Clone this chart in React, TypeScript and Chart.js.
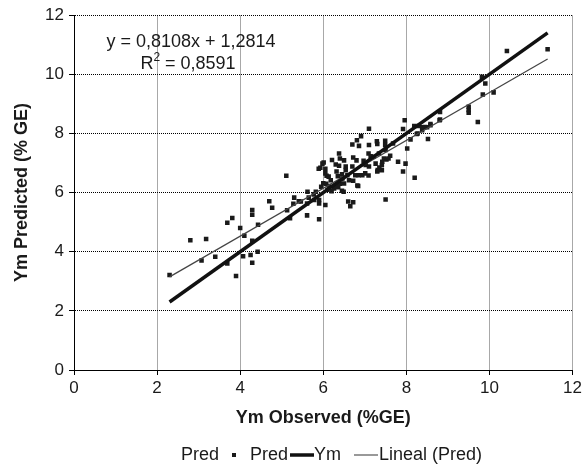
import React, { useEffect, useRef } from "react";
import { Chart, registerables } from "chart.js";

Chart.register(...registerables);

// ---- data ----
const OBSERVED = [
  2.30, 2.80, 3.18, 3.07, 3.40, 3.69, 3.81, 3.69, 3.90, 4.00, 4.10, 4.07, 4.25, 4.29, 4.29, 4.29, 4.43, 4.29, 4.42,
  4.70, 4.77, 5.11, 5.13, 5.20, 5.28, 5.30, 5.41, 5.46, 5.61, 5.61, 5.65, 5.62, 5.77, 5.82, 5.78, 5.90, 5.90, 5.90, 6.05,
  5.89, 5.93, 5.98, 6.01, 6.05, 6.05, 6.08, 6.13, 6.18, 6.14, 6.21, 6.30, 6.38, 6.32, 6.38, 6.40, 6.50, 6.54, 6.54, 6.26,
  6.32, 6.46, 6.50, 6.58, 6.62, 6.70, 6.77, 6.49, 6.60, 6.65, 6.72, 6.72, 6.84, 6.72, 6.80, 6.86, 6.91, 6.81, 6.70, 6.97,
  7.02, 7.10, 7.09, 7.10, 7.14, 7.01, 7.09, 7.29, 7.30, 7.21, 7.34, 7.26, 7.41, 7.41, 7.31, 7.49, 7.49, 7.50, 7.46, 7.52,
  7.50, 7.68, 7.61, 7.80, 7.92, 7.98, 8.02, 7.92, 7.96, 8.10, 8.20, 8.19, 8.27, 8.38, 8.52, 8.58, 8.80,
  6.00, 6.07, 6.30, 6.36, 6.40, 5.95, 6.10, 6.20, 6.35, 6.45, 6.94, 6.85, 6.82, 6.45, 7.10, 7.30, 7.42, 7.57, 7.35,
  8.40, 8.45, 8.50, 8.30, 8.25, 8.81, 8.81, 8.58, 9.50, 9.50, 9.50, 9.72, 9.82, 9.90, 9.84, 10.10, 10.42, 11.40,
];
const PREDICTED = [
  3.21, 4.39, 4.43, 3.70, 3.83, 4.98, 5.14, 3.60, 3.18, 4.80, 4.54, 3.85, 3.89, 3.63, 5.41, 5.25, 4.91, 4.37, 4.00,
  5.71, 5.49, 6.57, 5.40, 5.13, 5.62, 5.83, 5.71, 5.70, 5.63, 5.23, 5.83, 6.03, 5.94, 6.03, 5.75, 5.75, 5.63, 5.10, 5.58,
  6.81, 6.84, 6.98, 7.02, 6.65, 6.81, 6.57, 6.54, 6.42, 6.22, 7.10, 6.95, 6.91, 6.71, 7.32, 7.15, 7.09, 6.88, 6.76, 6.14,
  6.21, 6.48, 6.31, 6.59, 6.42, 6.88, 6.59, 6.03, 5.70, 5.54, 5.67, 6.40, 6.22, 7.19, 7.09, 7.58, 7.91, 7.77, 7.63, 7.08,
  6.93, 7.61, 7.32, 8.16, 7.23, 6.65, 6.58, 7.74, 7.64, 7.21, 7.32, 6.98, 6.93, 6.76, 6.76, 7.75, 7.61, 7.44, 7.15, 7.12,
  5.77, 7.66, 7.25, 7.04, 6.71, 6.98, 7.49, 8.15, 8.45, 7.80, 6.50, 8.25, 8.00, 8.11, 7.81, 8.32, 8.45,
  6.32, 6.30, 6.25, 6.18, 6.30, 6.20, 6.10, 6.05, 6.55, 6.62, 6.59, 6.59, 6.24, 6.06, 6.88, 6.71, 7.04, 7.15, 6.85,
  8.21, 8.22, 8.21, 8.25, 7.98, 8.73, 8.47, 8.28, 8.90, 8.79, 8.70, 8.39, 9.92, 9.69, 9.32, 9.39, 10.79, 10.85,
];
const YM_LINE_X = [2.3, 11.4];
const YM_LINE_Y = [2.3, 11.4];
const TREND_X = [2.3, 11.4];
const TREND_Y = [3.15, 10.52];
const X_TICKS = [0, 2, 4, 6, 8, 10, 12];
const Y_TICKS = [0, 2, 4, 6, 8, 10, 12];
const EQUATION = "y = 0,8108x + 1,2814";
const R2_TEXT = "0,8591";
const LEGEND_LABELS = ["Pred", "Pred", "Ym", "Lineal (Pred)"];
const X_TITLE = "Ym Observed (%GE)";
const Y_TITLE = "Ym Predicted (% GE)";

const FONT = "'Liberation Sans', Arial, Helvetica, sans-serif";
const INK = "#1a1a1a";

const overlayPlugin = {
  id: "overlay",
  afterDraw(chart: any) {
    const ctx = chart.ctx as CanvasRenderingContext2D;
    const area = chart.chartArea;
    ctx.save();
    ctx.fillStyle = INK;
    ctx.textBaseline = "middle";

    // regression equation
    ctx.font = `18px ${FONT}`;
    ctx.textAlign = "center";
    const eqX = area.left + 117;
    ctx.fillText(EQUATION, eqX, area.top + 27);
    // R^2 line
    const rW = ctx.measureText("R").width;
    ctx.font = `12px ${FONT}`;
    const supW = ctx.measureText("2").width;
    ctx.font = `18px ${FONT}`;
    const restTxt = " = " + R2_TEXT;
    const restW = ctx.measureText(restTxt).width;
    const total = rW + supW + restW;
    let sx = area.left + 114 - total / 2;
    const ry = area.top + 49;
    ctx.textAlign = "left";
    ctx.fillText("R", sx, ry);
    sx += rW;
    ctx.font = `12px ${FONT}`;
    ctx.fillText("2", sx, ry - 7);
    sx += supW;
    ctx.font = `18px ${FONT}`;
    ctx.fillText(restTxt, sx, ry);

    // legend
    const ly = 455;
    ctx.font = `18px ${FONT}`;
    ctx.textAlign = "left";
    ctx.fillText(LEGEND_LABELS[0], 181, ly);
    ctx.fillRect(232, ly - 2, 4, 4);
    ctx.fillText(LEGEND_LABELS[1], 250, ly);
    ctx.strokeStyle = "#111";
    ctx.lineWidth = 3.5;
    ctx.beginPath();
    ctx.moveTo(290, ly);
    ctx.lineTo(314, ly);
    ctx.stroke();
    ctx.fillText(LEGEND_LABELS[2], 314, ly);
    ctx.strokeStyle = "#555";
    ctx.lineWidth = 1.2;
    ctx.beginPath();
    ctx.moveTo(354, ly);
    ctx.lineTo(378, ly);
    ctx.stroke();
    ctx.fillText(LEGEND_LABELS[3], 379, ly);
    ctx.restore();
  },
};

export default function App() {
  const canvasRef = useRef<HTMLCanvasElement | null>(null);

  useEffect(() => {
    document.body.style.margin = "0";
    const canvas = canvasRef.current;
    if (!canvas) return;

    const points = OBSERVED.map((x, i) => ({ x, y: PREDICTED[i] }));
    const ymLine = YM_LINE_X.map((x, i) => ({ x, y: YM_LINE_Y[i] }));
    const trend = TREND_X.map((x, i) => ({ x, y: TREND_Y[i] }));

    const chart = new Chart(canvas, {
      type: "scatter",
      data: {
        datasets: [
          {
            label: "Ym",
            data: ymLine,
            showLine: true,
            borderColor: "#111",
            borderWidth: 3.5,
            pointRadius: 0,
            fill: false,
          } as any,
          {
            label: "Lineal (Pred)",
            data: trend,
            showLine: true,
            borderColor: "#444",
            borderWidth: 1.2,
            pointRadius: 0,
            fill: false,
          } as any,
          {
            label: "Pred",
            data: points,
            pointStyle: "rect",
            pointRadius: 3.2,
            pointBackgroundColor: INK,
            pointBorderColor: INK,
            pointBorderWidth: 0,
            showLine: false,
          } as any,
        ],
      },
      options: {
        responsive: false,
        animation: false,
        layout: { padding: { top: 15, right: 11, left: 0, bottom: 0 } },
        plugins: {
          legend: { display: false },
          tooltip: { enabled: false },
        },
        scales: {
          x: {
            type: "linear",
            position: "bottom",
            min: 0,
            max: 12,
            afterBuildTicks: (s: any) => {
              s.ticks = X_TICKS.map((v) => ({ value: v }));
            },
            afterFit: (s: any) => {
              s.height = 96;
            },
            grid: {
              color: "#a8a8a8",
              lineWidth: 1,
              tickColor: "#000",
              tickLength: 5,
              drawTicks: true,
            },
            border: { color: "#000", width: 1 },
            ticks: {
              color: INK,
              font: { family: FONT, size: 17 },
              padding: 3,
              maxRotation: 0,
            },
            title: {
              display: true,
              text: X_TITLE,
              color: INK,
              font: { family: FONT, size: 18, weight: "bold" },
              padding: { top: 0, bottom: 37 },
            },
          },
          y: {
            type: "linear",
            min: 0,
            max: 12,
            afterBuildTicks: (s: any) => {
              s.ticks = Y_TICKS.map((v) => ({ value: v }));
            },
            afterFit: (s: any) => {
              s.width = 74;
            },
            grid: {
              color: "#000",
              lineWidth: 1,
              tickColor: "#000",
              tickLength: 5,
              drawTicks: true,
            },
            border: { color: "#000", width: 1, dash: [1, 1] },
            ticks: {
              color: INK,
              font: { family: FONT, size: 17 },
              padding: 5,
            },
            title: {
              display: true,
              text: Y_TITLE,
              color: INK,
              font: { family: FONT, size: 18, weight: "bold" },
              padding: { top: 11, bottom: 0 },
            },
          },
        },
      } as any,
      plugins: [overlayPlugin],
    });

    return () => {
      chart.destroy();
    };
  }, []);

  return (
    <div style={{ position: "relative", width: 585, height: 466, background: "#fff" }}>
      <canvas ref={canvasRef} width={585} height={466} />
    </div>
  );
}
